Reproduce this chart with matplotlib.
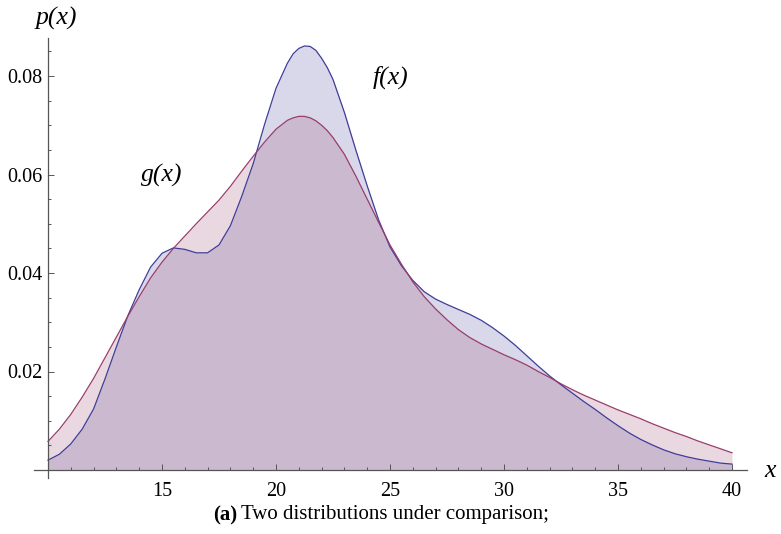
import matplotlib
matplotlib.use("Agg")
import matplotlib.pyplot as plt
from matplotlib.ticker import MultipleLocator, FixedLocator

# ---- data ----
x_vals = [10.0, 10.5, 11.0, 11.5, 12.0, 12.5, 13.0, 13.5, 14.0, 14.5,
          15.0, 15.5, 16.0, 16.5, 17.0, 17.5, 18.0, 18.5, 19.0, 19.5,
          20.0, 20.5, 20.75, 21.0, 21.25, 21.5, 21.75, 22.0, 22.25, 22.5,
          23.0, 23.5, 24.0, 24.5,
          25.0, 25.5, 26.0, 26.5, 27.0, 27.5, 28.0, 28.5, 29.0, 29.5,
          30.0, 30.5, 31.0, 31.5, 32.0, 32.5, 33.0, 33.5, 34.0, 34.5,
          35.0, 35.5, 36.0, 36.5, 37.0, 37.5, 38.0, 38.5, 39.0, 39.5, 40.0]

f_vals = [0.0020, 0.0032, 0.0053, 0.0083, 0.0124, 0.0185, 0.0250, 0.0313, 0.0366, 0.0412,
          0.0440, 0.0451, 0.0448, 0.0441, 0.0441, 0.0457, 0.0496, 0.0556, 0.0622, 0.0702,
          0.0775, 0.0826, 0.0845, 0.0856, 0.0861, 0.0860, 0.0852, 0.0836, 0.0817, 0.0793,
          0.0726, 0.0650, 0.0577, 0.0508,
          0.0453, 0.0415, 0.0385, 0.0362, 0.0347, 0.0336, 0.0326, 0.0316, 0.0304, 0.0289,
          0.0272, 0.0253, 0.0232, 0.0211, 0.0191, 0.0173, 0.0156, 0.0139, 0.0123, 0.0106,
          0.0090, 0.0075, 0.0062, 0.0051, 0.0041, 0.0033, 0.0027, 0.0022, 0.0018, 0.0014, 0.0012]

g_vals = [0.0058, 0.0083, 0.0113, 0.0148, 0.0186, 0.0228, 0.0270, 0.0312, 0.0352, 0.0390,
          0.0422, 0.0450, 0.0475, 0.0500, 0.0524, 0.0548, 0.0576, 0.0607, 0.0637, 0.0666,
          0.0692, 0.0710, 0.0715, 0.0718, 0.0718, 0.0715, 0.0709, 0.0700, 0.0689, 0.0675,
          0.0641, 0.0597, 0.0550, 0.0503,
          0.0457, 0.0418, 0.0382, 0.0352, 0.0327, 0.0305, 0.0285, 0.0269, 0.0256, 0.0245,
          0.0234, 0.0224, 0.0213, 0.0200, 0.0188, 0.0175, 0.0163, 0.0152, 0.0142, 0.0132,
          0.0122, 0.0113, 0.0104, 0.0094, 0.0085, 0.0076, 0.0068, 0.0059, 0.0051, 0.0043, 0.0035]

x_ticks = [15, 20, 25, 30, 35, 40]
y_ticks = [0.02, 0.04, 0.06, 0.08]
y_tick_labels = ["0.02", "0.04", "0.06", "0.08"]

# ---- style ----
BLUE = (0.24, 0.24, 0.60)
RED = (0.60, 0.24, 0.42)
AXC = "#555555"
SERIF = ["Liberation Serif", "DejaVu Serif"]

W, H = 781, 534
fig = plt.figure(figsize=(W / 100, H / 100), dpi=100)
ax = fig.add_axes([34 / W, 1 - 478 / H, 713 / W, 440 / H])

ax.fill_between(x_vals, 0, f_vals, color=BLUE, alpha=0.2, lw=0)
ax.fill_between(x_vals, 0, g_vals, color=RED, alpha=0.2, lw=0)
ax.plot(x_vals, f_vals, color=BLUE, lw=0.9, solid_joinstyle="round")
ax.plot(x_vals, g_vals, color=RED, lw=0.9, solid_joinstyle="round")

ax.set_xlim(10 - 14 / 22.8, 40 + 15 / 22.8)
ax.set_ylim(-8 / 4925, 432 / 4925)

for s in ["top", "right"]:
    ax.spines[s].set_visible(False)
ax.spines["left"].set_position(("data", 10))
ax.spines["bottom"].set_position(("data", 0))
for s in ["left", "bottom"]:
    ax.spines[s].set_color(AXC)
    ax.spines[s].set_linewidth(0.9)

ax.xaxis.set_major_locator(FixedLocator(x_ticks))
ax.xaxis.set_minor_locator(MultipleLocator(1))
ax.yaxis.set_major_locator(FixedLocator(y_ticks))
ax.yaxis.set_minor_locator(MultipleLocator(0.005))
ax.set_yticklabels(y_tick_labels)
ax.set_xticklabels([str(t) for t in x_ticks])

ax.tick_params(which="both", direction="in", color=AXC, width=0.7)
ax.tick_params(which="major", length=4)
ax.tick_params(which="minor", length=2.5)
ax.tick_params(axis="x", which="major", pad=9, labelsize=14.5)
ax.tick_params(axis="y", which="major", pad=4, labelsize=14.5)
for lab in ax.get_xticklabels() + ax.get_yticklabels():
    lab.set_family(SERIF)

# labels
fig.text(56 / W, 1 - 18 / H, "p(x)", family=SERIF, style="italic", fontsize=18.5,
         ha="center", va="center")
fig.text(770 / W, 1 - 471 / H, "x", family=SERIF, style="italic", fontsize=18.5,
         ha="center", va="center")
fig.text(391 / W, 1 - 77 / H, "f(x)", family=SERIF, style="italic", fontsize=18.5,
         ha="center", va="center")
fig.text(162 / W, 1 - 175 / H, "g(x)", family=SERIF, style="italic", fontsize=18.5,
         ha="center", va="center")

# caption
renderer = fig.canvas.get_renderer()
t1 = fig.text(213 / W, 1 - 515 / H, "(a)", family=SERIF, weight="bold", fontsize=15,
              ha="left", va="center")
bb = t1.get_window_extent(renderer)
fig.text((bb.x1 + 4) / W, 1 - 515 / H, "Two distributions under comparison;",
         family=SERIF, fontsize=15, ha="left", va="center")

fig.savefig("out.png", dpi=100)
